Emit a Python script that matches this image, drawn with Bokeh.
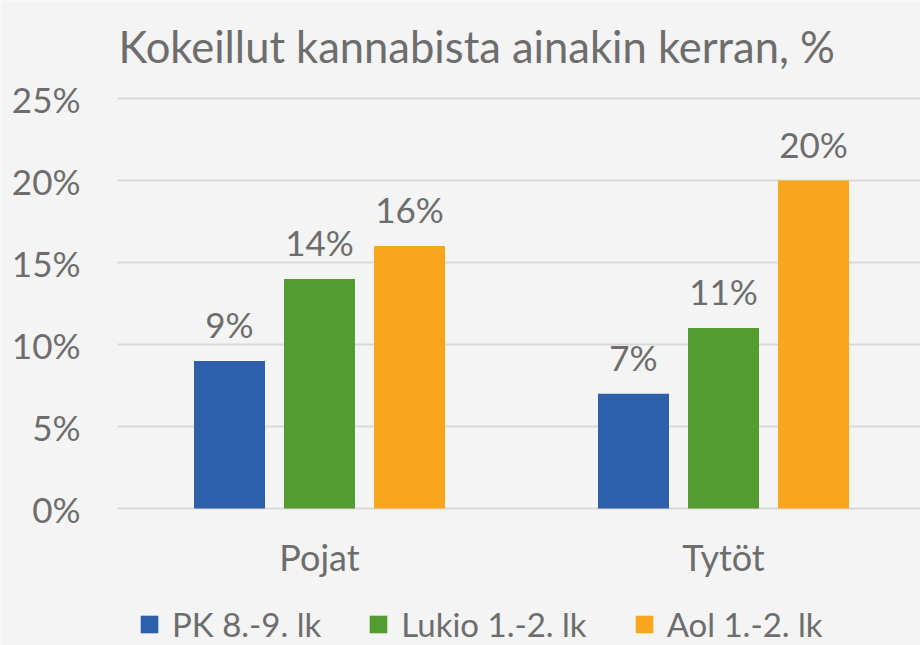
from bokeh.plotting import figure
from bokeh.models import (ColumnDataSource, Range1d, LabelSet, Label, Legend, LegendItem)
from bokeh.core.properties import value
from bokeh.embed import file_html
from bokeh.resources import INLINE

# ---- data ----
groups = ["Pojat", "Tytöt"]
series = ["PK 8.-9. lk", "Lukio 1.-2. lk", "Aol 1.-2. lk"]
pk = [9, 7]
lukio = [14, 11]
aol = [16, 20]
y_ticks = [0, 5, 10, 15, 20, 25]
tick_labels = ["0%", "5%", "10%", "15%", "20%", "25%"]
title_text = "Kokeillut kannabista ainakin kerran, %"

# ---- layout / style ----
W, H = 920, 645
LEFT, TOP, BOTTOM = 117, 98, 137          # plot-area margins in px
GROUP_PX = 404                            # px per category
PX_PER_UNIT = (H - TOP - BOTTOM) / y_ticks[-1]
colors = ["#2E5FAB", "#529C30", "#F9A61C"]
FONT = "Lato"
TXT = "#6d6d6d"

x_end = (W - LEFT) / GROUP_PX
p = figure(width=W, height=H, output_backend="svg", toolbar_location=None,
           x_range=Range1d(-LEFT / GROUP_PX, x_end),
           y_range=Range1d(-BOTTOM / PX_PER_UNIT, y_ticks[-1] + TOP / PX_PER_UNIT),
           min_border=0)
p.axis.visible = False
p.grid.visible = False
p.background_fill_color = "#f4f4f4"
p.border_fill_color = "#f4f4f4"
p.outline_line_color = None

# gridlines
p.segment(x0=[0] * len(y_ticks), x1=[x_end] * len(y_ticks), y0=y_ticks, y1=y_ticks,
          line_color="#d9d9d9", line_width=2)

# y tick labels
tsrc = ColumnDataSource(dict(x=[0] * len(y_ticks), y=y_ticks, t=tick_labels))
p.add_layout(LabelSet(x="x", y="y", text="t", source=tsrc, text_align="right",
                      text_baseline="middle", x_offset=-37, text_font=value(FONT),
                      text_font_size="35px", text_color=TXT))

# title
p.add_layout(Label(x=0, y=y_ticks[-1], x_offset=1, y_offset=53, text=title_text,
                   text_baseline="alphabetic", text_align="left", text_font=FONT,
                   text_font_size="43.5px", text_color=TXT))

centers = [i + 0.5 for i in range(len(groups))]
offsets = [-90 / GROUP_PX, 0, 90 / GROUP_PX]
bw = 71 / GROUP_PX
renderers = []
for k, (vals, col) in enumerate(zip([pk, lukio, aol], colors)):
    src = ColumnDataSource(dict(x=[c + offsets[k] for c in centers], top=vals,
                                lab=[f"{v}%" for v in vals]))
    r = p.vbar(x="x", top="top", width=bw, bottom=0, source=src, fill_color=col,
               line_color=None)
    renderers.append(r)
    p.add_layout(LabelSet(x="x", y="top", text="lab", source=src, text_align="center",
                          text_baseline="alphabetic", y_offset=23, text_font=value(FONT),
                          text_font_size="35px", text_color=TXT))

# category labels
csrc = ColumnDataSource(dict(x=centers, y=[0] * len(groups), t=groups))
p.add_layout(LabelSet(x="x", y="y", text="t", source=csrc, text_align="center",
                      text_baseline="alphabetic", y_offset=-62, text_font=value(FONT),
                      text_font_size="36px", text_color=TXT))

legend = Legend(items=[LegendItem(label=s, renderers=[r]) for s, r in zip(series, renderers)],
                orientation="horizontal", location=(138, 1), glyph_width=22, glyph_height=22,
                label_standoff=12, spacing=46, padding=0, margin=0,
                label_text_font=FONT, label_text_font_size="33px", label_text_color=TXT,
                border_line_color=None, background_fill_alpha=0)
p.add_layout(legend, "center")

open("out.html", "w").write(file_html(p, INLINE))
